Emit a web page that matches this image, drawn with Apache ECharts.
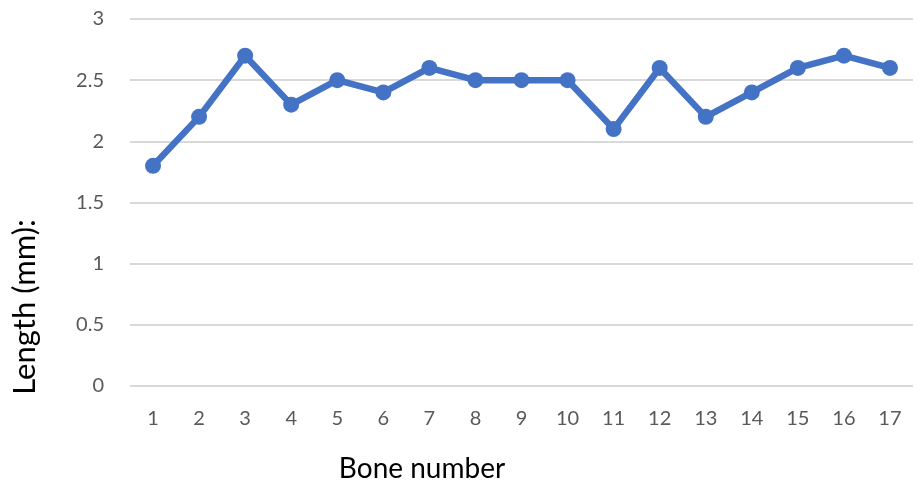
<!DOCTYPE html>
<html>
<head>
<meta charset="utf-8">
<script src="https://cdn.jsdelivr.net/npm/echarts@6/dist/echarts.min.js"></script>
<style>html,body{margin:0;padding:0;background:#fff}#c{width:924px;height:486px}</style>
</head>
<body>
<div id="c"></div>
<script>
var categories = ['1','2','3','4','5','6','7','8','9','10','11','12','13','14','15','16','17'];
var lengths = [1.8, 2.2, 2.7, 2.3, 2.5, 2.4, 2.6, 2.5, 2.5, 2.5, 2.1, 2.6, 2.2, 2.4, 2.6, 2.7, 2.6];
var yTitle = 'Length (mm):';
var xTitle = 'Bone number';

var chart = echarts.init(document.getElementById('c'));
var font = 'Lato, "Open Sans", sans-serif';
chart.setOption({
  animation: false,
  backgroundColor: '#ffffff',
  grid: { left: 130, right: 11, top: 19, bottom: 100 },
  xAxis: {
    type: 'category',
    data: categories,
    boundaryGap: true,
    axisLine: { show: false },
    axisTick: { show: false },
    axisLabel: { color: '#595959', fontSize: 20, fontFamily: font, margin: 23 }
  },
  yAxis: {
    type: 'value',
    min: 0, max: 3, interval: 0.5,
    axisLine: { show: false },
    axisTick: { show: false },
    splitLine: { lineStyle: { color: '#d9d9d9', width: 2 } },
    axisLabel: { color: '#595959', fontSize: 20, fontFamily: font, margin: 26 }
  },
  graphic: [
    { type: 'text', x: 25, y: 307, rotation: Math.PI / 2,
      style: { text: yTitle, fill: '#000', font: '31px ' + font, textAlign: 'center', textVerticalAlign: 'middle' } },
    { type: 'text', x: 422, y: 469,
      style: { text: xTitle, fill: '#000', font: '28px ' + font, textAlign: 'center', textVerticalAlign: 'middle' } }
  ],
  series: [{
    type: 'line',
    data: lengths,
    symbol: 'circle',
    symbolSize: 16,
    lineStyle: { color: '#4472C4', width: 6.5 },
    itemStyle: { color: '#4472C4' }
  }]
});
</script>
</body>
</html>
